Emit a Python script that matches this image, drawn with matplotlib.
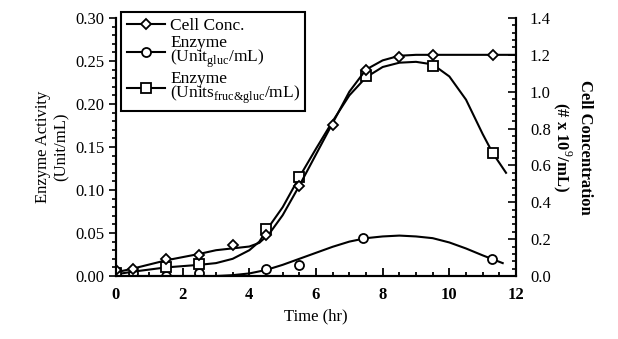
import numpy as np
import matplotlib.pyplot as plt
from matplotlib.ticker import MultipleLocator, FormatStrFormatter

plt.rcParams['font.family'] = ['Liberation Serif', 'DejaVu Serif']
plt.rcParams['mathtext.fontset'] = 'custom'
plt.rcParams['mathtext.rm'] = 'Liberation Serif'

# measured points
cell_t = [0, 0.5, 1.5, 2.5, 3.5, 4.5, 5.5, 6.5, 7.5, 8.5, 9.5, 11.3]
cell_v = [0.03, 0.04, 0.09, 0.115, 0.17, 0.22, 0.49, 0.82, 1.12, 1.19, 1.2, 1.2]

gluc_t = [0, 0.5, 1.5, 2.5, 4.5, 5.5, 7.4, 11.27]
gluc_v = [0.0, 0.003, 0.0, 0.004, 0.008, 0.013, 0.044, 0.02]

fg_t = [0, 1.5, 2.5, 4.5, 5.5, 7.5, 9.5, 11.3]
fg_v = [0.003, 0.011, 0.014, 0.055, 0.115, 0.233, 0.244, 0.143]

# fitted curves
cell_ct = [0, 0.5, 1.5, 2.5, 3.0, 3.5, 4.0, 4.3, 4.6, 5.0, 5.5, 6.0, 6.5, 7.0, 7.5, 8.0, 8.5, 9.0, 9.5, 12]
cell_cv = [0.02, 0.04, 0.085, 0.12, 0.14, 0.15, 0.16, 0.18, 0.23, 0.33, 0.49, 0.66, 0.83, 1.0, 1.12, 1.17, 1.195, 1.2, 1.2, 1.2]

gluc_ct = [0, 1, 2, 3, 3.5, 4, 4.5, 5, 5.5, 6, 6.5, 7, 7.5, 8, 8.5, 9, 9.5, 10, 10.5, 11, 11.6]
gluc_cv = [0.0, 0.0, 0.0, 0.0, 0.001, 0.003, 0.007, 0.013, 0.02, 0.027, 0.034, 0.04, 0.044, 0.046, 0.047, 0.046, 0.044, 0.039, 0.032, 0.024, 0.015]

fg_ct = [0, 0.5, 1.5, 2.5, 3.0, 3.5, 4.0, 4.3, 4.6, 5.0, 5.5, 6.0, 6.5, 7.0, 7.5, 8.0, 8.5, 9.0, 9.5, 10.0, 10.5, 11.0, 11.3, 11.7]
fg_cv = [0.002, 0.005, 0.01, 0.013, 0.015, 0.02, 0.03, 0.04, 0.058, 0.08, 0.115, 0.148, 0.18, 0.21, 0.231, 0.243, 0.248, 0.249, 0.246, 0.232, 0.205, 0.165, 0.143, 0.12]

fig = plt.figure(figsize=(6.18, 3.39), dpi=100)
ax = fig.add_axes([0.1877, 0.1858, 0.6473, 0.7612])
ax2 = ax.twinx()

lw = 1.5
mk = dict(markerfacecolor='white', markeredgecolor='black', markeredgewidth=1.3, markersize=6.5)

ax.plot(gluc_ct, gluc_cv, color='black', lw=lw)
ax.plot(gluc_t, gluc_v, 'o', **mk)
ax.plot(fg_ct, fg_cv, color='black', lw=lw)
ax.plot(fg_t, fg_v, 's', **mk)
ax2.plot(cell_ct, cell_cv, color='black', lw=lw)
ax2.plot(cell_t, cell_v, 'D', **dict(mk, markersize=5.5))

ax.set_xlim(0, 12)
ax.set_ylim(0, 0.30)
ax2.set_ylim(0, 1.4)

ax.xaxis.set_major_locator(MultipleLocator(2))
ax.xaxis.set_minor_locator(MultipleLocator(0.5))
ax.yaxis.set_major_locator(MultipleLocator(0.05))
ax.yaxis.set_minor_locator(MultipleLocator(0.01))
ax.yaxis.set_major_formatter(FormatStrFormatter('%.2f'))
ax2.yaxis.set_major_locator(MultipleLocator(0.2))
ax2.yaxis.set_minor_locator(MultipleLocator(0.04))
ax2.yaxis.set_major_formatter(FormatStrFormatter('%.1f'))

for a in (ax, ax2):
    a.spines['top'].set_visible(False)
    for s in a.spines.values():
        s.set_linewidth(1.5)
ax.tick_params(axis='x', which='both', direction='in', width=1.3, labelsize=12, pad=8)
ax.tick_params(axis='x', which='major', length=6)
ax.tick_params(axis='x', which='minor', length=3)
ax.tick_params(axis='y', which='both', direction='out', width=1.2, labelsize=12)
ax.tick_params(axis='y', which='major', length=5)
ax.tick_params(axis='y', which='minor', length=3)
ax2.tick_params(axis='y', which='both', direction='in', width=1.2, labelsize=12, pad=10)
ax2.tick_params(axis='y', which='major', length=6)
ax2.tick_params(axis='y', which='minor', length=3)
for lab in ax.get_xticklabels():
    lab.set_fontweight('bold')

ax.set_xlabel('Time (hr)', fontsize=12)
ax.set_ylabel('Enzyme Activity\n(Unit/mL)', fontsize=12, labelpad=4)
ax2.set_ylabel('Cell Concentration\n(# x 10$^9$/mL)', fontsize=12, rotation=270,
               labelpad=30, fontweight='bold')

h1, = ax.plot([], [], '-D', color='black', lw=lw, **dict(mk, markersize=5.5))
h2, = ax.plot([], [], '-o', color='black', lw=lw, **mk)
h3, = ax.plot([], [], '-s', color='black', lw=lw, **mk)
leg = ax.legend([h1, h2, h3],
                ['Cell Conc.', 'Enzyme\n(Unit$_{\\mathregular{gluc}}$/mL)',
                 'Enzyme\n(Units$_{\\mathregular{fruc&gluc}}$/mL)'],
                loc='upper left', bbox_to_anchor=(0.005, 1.035), fontsize=12.5,
                frameon=True, fancybox=False, edgecolor='black', framealpha=1,
                handlelength=2.2, handletextpad=0.3, labelspacing=0.05,
                borderpad=0.3, borderaxespad=0.2)
leg.get_frame().set_linewidth(1.5)
for t in leg.get_texts():
    t.set_linespacing(0.8)

fig.savefig('out.png', dpi=100)
